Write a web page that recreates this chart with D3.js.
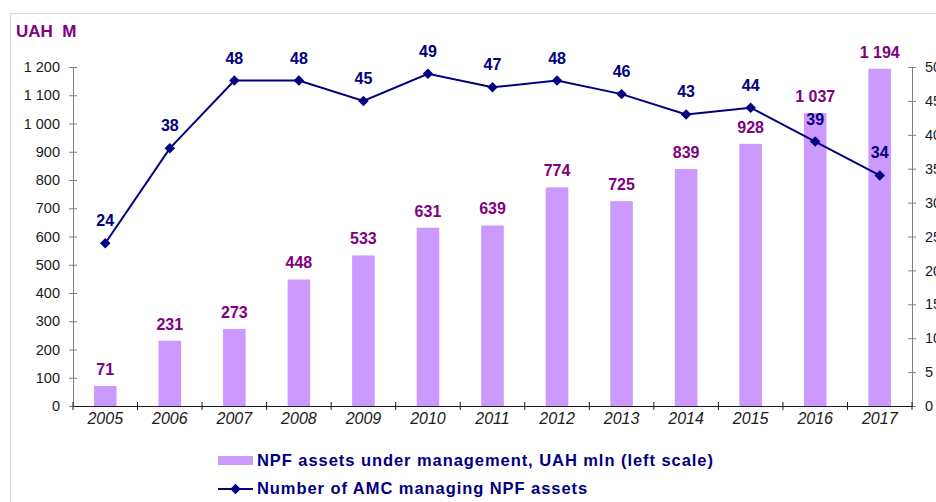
<!DOCTYPE html>
<html>
<head>
<meta charset="utf-8">
<script src="https://cdnjs.cloudflare.com/ajax/libs/d3/7.8.5/d3.min.js"></script>
<style>
    body { margin: 0; background: #fff; }
    svg { display: block; font-family: "Liberation Sans", Arial, sans-serif; }
</style>
</head>
<body>
<svg class="chart" width="936" height="502"></svg>
<script>
    //Chart data
    var years = ["2005", "2006", "2007", "2008", "2009", "2010", "2011", "2012", "2013", "2014", "2015", "2016", "2017"];
    var assets = [71, 231, 273, 448, 533, 631, 639, 774, 725, 839, 928, 1037, 1194];
    var amcCount = [24, 38, 48, 48, 45, 49, 47, 48, 46, 43, 44, 39, 34];
    var leftTicks = [0, 100, 200, 300, 400, 500, 600, 700, 800, 900, 1000, 1100, 1200];
    var rightTicks = [0, 5, 10, 15, 20, 25, 30, 35, 40, 45, 50];
    var legendLabels = ["NPF assets under management, UAH mln (left scale)", "Number of AMC managing NPF assets"];

    //Colours
    var barColor = "#cc99ff";
    var barText = "#800080";
    var lineColor = "#000080";

    //Plot area (not "top": that name is taken by window.top)
    var plotL = 73, plotR = 912, plotT = 67, plotB = 406;

    var svg = d3.select(".chart");

    //Space-separated thousands, like "1 200"
    var fmt = function(v){ return d3.format(",")(v).replace(/,/g, " "); };

    var x = d3.scaleBand().domain(years).range([plotL, plotR]).paddingInner(0.65).paddingOuter(0.325);
    var xPos = d3.scaleBand().domain(years).range([plotL, plotR]);
    var yL = d3.scaleLinear().domain([0, 1200]).range([plotB, plotT]);
    var yR = d3.scaleLinear().domain([0, 50]).range([plotB, plotT]);
    var cx = function(i){ return xPos(years[i]) + xPos.bandwidth() / 2; };

    //Outer frame
    svg.append("rect")
        .attr("x", 10.5).attr("y", 13.5)
        .attr("width", 960).attr("height", 520)
        .attr("fill", "none").attr("stroke", "#d9d9d9");

    //Title
    svg.append("text")
        .attr("x", 16).attr("y", 37)
        .attr("fill", barText)
        .style("font-size", "17px").style("font-weight", "bold")
        .style("white-space", "pre")
        .text("UAH  M");

    //Left axis
    var leftAxis = svg.append("g")
        .attr("transform", "translate(" + plotL + ",0)")
        .call(d3.axisLeft(yL).tickValues(leftTicks).tickFormat(fmt).tickSizeInner(4).tickSizeOuter(0).tickPadding(9));
    leftAxis.selectAll(".tick line").clone().attr("x2", 4);
    leftAxis.select(".domain").attr("stroke", "#808080");
    leftAxis.selectAll("line").attr("stroke", "#808080");
    leftAxis.selectAll("text").attr("fill", "#1a1a1a").style("font-size", "14.5px").style("font-family", "Liberation Sans, Arial, sans-serif");

    //Right axis
    var rightAxis = svg.append("g")
        .attr("transform", "translate(" + plotR + ",0)")
        .call(d3.axisRight(yR).tickValues(rightTicks).tickSizeInner(4).tickSizeOuter(0).tickPadding(9));
    rightAxis.selectAll(".tick line").clone().attr("x2", -4);
    rightAxis.select(".domain").attr("stroke", "#808080");
    rightAxis.selectAll("line").attr("stroke", "#808080");
    rightAxis.selectAll("text").attr("fill", "#1a1a1a").style("font-size", "14.5px").style("font-family", "Liberation Sans, Arial, sans-serif");

    //Bars
    svg.append("g").selectAll("rect")
        .data(assets)
        .join("rect")
        .attr("x", function(d, i){ return x(years[i]); })
        .attr("y", function(d){ return yL(d); })
        .attr("width", x.bandwidth())
        .attr("height", function(d){ return plotB - yL(d); })
        .attr("fill", barColor);

    //Bottom axis
    var xAxis = svg.append("g")
        .attr("transform", "translate(0," + plotB + ")")
        .call(d3.axisBottom(xPos).tickSize(0).tickPadding(7));
    xAxis.select(".domain").attr("stroke", "#1a1a1a");
    xAxis.selectAll("text").attr("fill", "#1a1a1a").style("font-size", "16px").style("font-style", "italic").style("font-family", "Liberation Sans, Arial, sans-serif");
    //Category separators crossing the axis
    xAxis.selectAll(".sep")
        .data(years.concat(["end"]))
        .join("line")
        .attr("x1", function(d, i){ return plotL + i * xPos.bandwidth(); })
        .attr("x2", function(d, i){ return plotL + i * xPos.bandwidth(); })
        .attr("y1", -4).attr("y2", 4)
        .attr("stroke", "#1a1a1a");

    //Bar labels
    svg.append("g").selectAll("text")
        .data(assets)
        .join("text")
        .attr("x", function(d, i){ return cx(i); })
        .attr("y", function(d){ return yL(d) - 11; })
        .attr("text-anchor", "middle")
        .attr("fill", barText)
        .style("font-size", "16px").style("font-weight", "bold")
        .text(fmt);

    //Line
    var line = d3.line()
        .x(function(d, i){ return cx(i); })
        .y(function(d){ return yR(d); });
    svg.append("path")
        .datum(amcCount)
        .attr("d", line)
        .attr("fill", "none")
        .attr("stroke", lineColor)
        .attr("stroke-width", 2);

    var diamond = d3.symbol().type(d3.symbolDiamond2).size(70);
    svg.append("g").selectAll("path")
        .data(amcCount)
        .join("path")
        .attr("d", diamond)
        .attr("transform", function(d, i){ return "translate(" + cx(i) + "," + yR(d) + ")"; })
        .attr("fill", lineColor);

    //Line labels
    svg.append("g").selectAll("text")
        .data(amcCount)
        .join("text")
        .attr("x", function(d, i){ return cx(i); })
        .attr("y", function(d){ return yR(d) - 17; })
        .attr("text-anchor", "middle")
        .attr("fill", lineColor)
        .style("font-size", "16px").style("font-weight", "bold")
        .text(function(d){ return d; });

    //Legend
    var legend = svg.append("g");
    legend.append("rect")
        .attr("x", 218).attr("y", 456)
        .attr("width", 35).attr("height", 9)
        .attr("fill", barColor);
    legend.append("line")
        .attr("x1", 218).attr("x2", 253)
        .attr("y1", 489).attr("y2", 489)
        .attr("stroke", lineColor).attr("stroke-width", 2);
    legend.append("path")
        .attr("d", diamond)
        .attr("transform", "translate(235.5,489)")
        .attr("fill", lineColor);
    legend.selectAll("text")
        .data(legendLabels)
        .join("text")
        .attr("x", 257)
        .attr("y", function(d, i){ return 466 + i * 28; })
        .attr("fill", lineColor)
        .style("font-size", "16.5px").style("font-weight", "bold")
        .style("letter-spacing", "0.94px")
        .text(function(d){ return d; });
</script>
</body>
</html>
